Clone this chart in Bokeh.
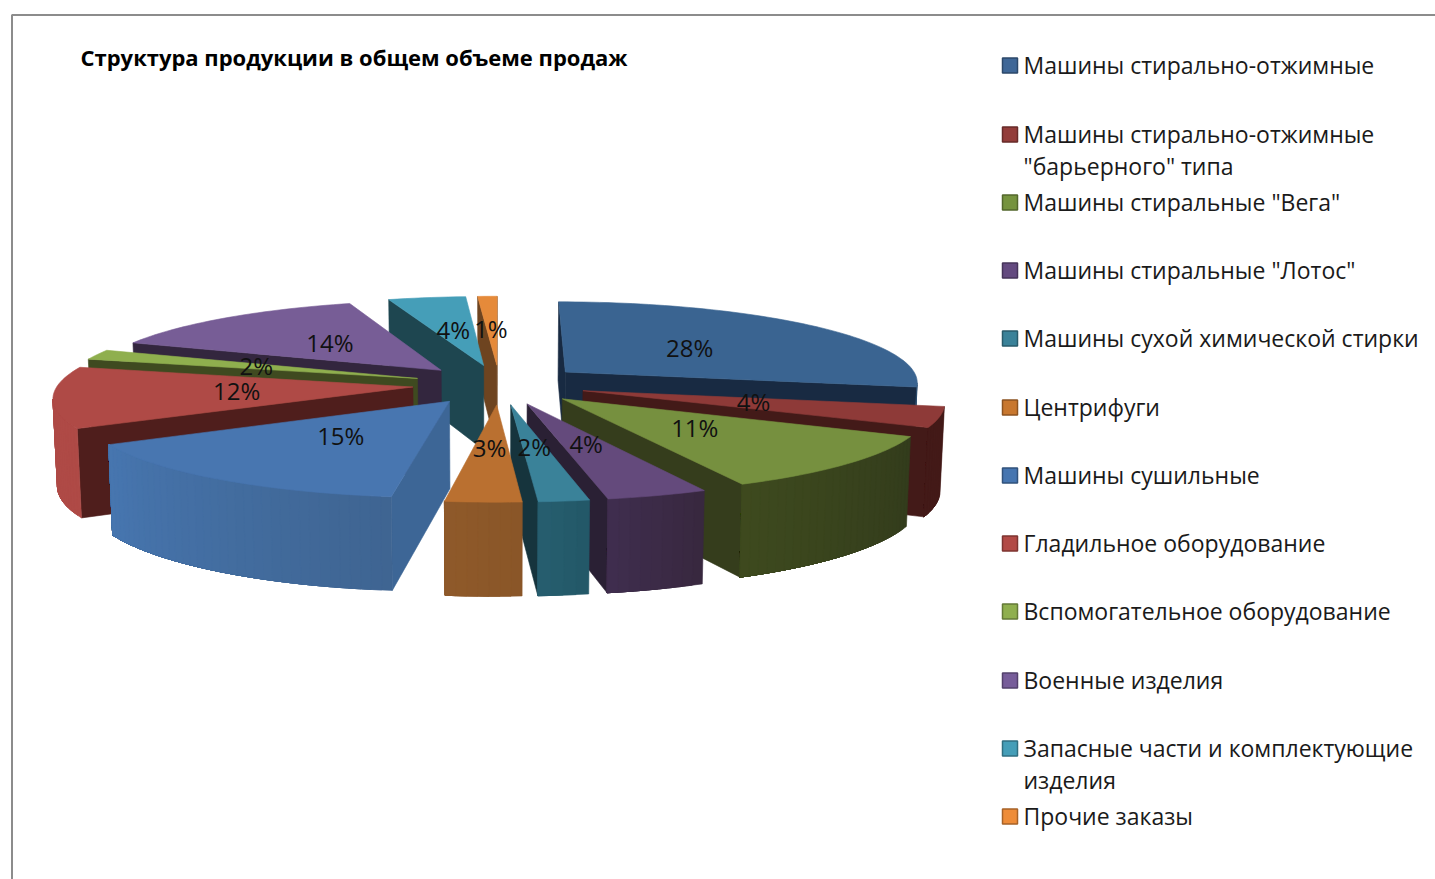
import math
from bokeh.plotting import figure
from bokeh.models import Range1d
from bokeh.core.properties import value
from bokeh.embed import file_html
from bokeh.resources import INLINE

TITLE = "Структура  продукции в общем объеме продаж"
categories = [
    "Машины стирально-отжимные",
    "Машины стирально-отжимные\n\"барьерного\" типа",
    "Машины стиральные \"Вега\"",
    "Машины стиральные \"Лотос\"",
    "Машины сухой химической стирки",
    "Центрифуги",
    "Машины сушильные",
    "Гладильное оборудование",
    "Вспомогательное оборудование",
    "Военные изделия",
    "Запасные части и комплектующие\nизделия",
    "Прочие заказы",
]
shares = [28, 4, 11, 4, 2, 3, 15, 12, 2, 14, 4, 1]

top_colors = ["#3A6491", "#8E3A38", "#76903F", "#644A7C", "#3A8299", "#BA7030",
              "#4876B0", "#AF4A46", "#8FAF4E", "#775D96", "#459EB8", "#E58A3A"]
cut_colors = ["#182A42", "#431A18", "#353D1C", "#2A2034", "#16343D", "#8A5628",
              "#3D6696", "#4F1E1C", "#3F4A20", "#33263E", "#1E4650", "#6E4420"]
wall_from = ["#2A4A6C", "#431A18", "#333C1C", "#38283F", "#235868", "#8A5628",
             "#3F6592", "#AF4A46", "#6E8A3A", "#5A4672", "#2F7A90", "#B06A2C"]
wall_to = ["#2A4A6C", "#431A18", "#3E4A1E", "#402E50", "#275F70", "#8F5A2A",
           "#4776B0", "#AF4A46", "#6E8A3A", "#5A4672", "#2F7A90", "#B06A2C"]
swatch_colors = ["#3F6797", "#933C3A", "#76933F", "#644A80", "#3A8299", "#C8772E",
                 "#4675B0", "#B24A46", "#8FAF4E", "#775D9A", "#459EB8", "#EE8C38"]

# Projection of the exploded pie
CX, CY, RX, RY = 499.0, 384.0, 355.0, 81.0
EXPLODE, PERSP, WALL = 0.245, 0.115, 86.0


def project(x, y, bottom=False):
    s = 1.0 / (1.0 + PERSP * y)
    sx = RX * x * s
    sy = CY - RY * y * s
    if bottom:
        sx *= 0.99
        sy += WALL * (1.0 - 0.075 * y)
    return CX + sx, sy


def hex_mix(a, b, t):
    ca = [int(a[i:i + 2], 16) for i in (1, 3, 5)]
    cb = [int(b[i:i + 2], 16) for i in (1, 3, 5)]
    return "#%02X%02X%02X" % tuple(round(p + (q - p) * t) for p, q in zip(ca, cb))


def area(pts):
    return 0.5 * sum(pts[i][0] * pts[(i + 1) % len(pts)][1] - pts[(i + 1) % len(pts)][0] * pts[i][1]
                     for i in range(len(pts)))


total = sum(shares)
slices = []
acc = 0.0
for i, v in enumerate(shares):
    a0 = 2 * math.pi * acc / total
    a1 = 2 * math.pi * (acc + v) / total
    acc += v
    slices.append((i, a0, a1, (a0 + a1) / 2))

xs, ys, fills = [], [], []


def add(pts, color):
    xs.append([p[0] for p in pts])
    ys.append([p[1] for p in pts])
    fills.append(color)


for i, a0, a1, mid in sorted(slices, key=lambda r: -math.cos(r[3])):
    ox, oy = EXPLODE * math.sin(mid), EXPLODE * math.cos(mid)
    n = max(3, int((a1 - a0) / math.radians(1.5)))
    angs = [a0 + (a1 - a0) * k / n for k in range(n + 1)]
    rim = [(ox + math.sin(t), oy + math.cos(t)) for t in angs]
    # cut faces
    for outer, sign in ((rim[0], 1), (rim[-1], -1)):
        face = [project(ox, oy), project(*outer), project(*outer, bottom=True), project(ox, oy, bottom=True)]
        if area(face) * sign < 0:
            add(face, cut_colors[i])
    # outer wall: only the part facing the viewer, in overlapping strips so no seams show
    vis = [k for k in range(n)
           if area([project(*rim[k]), project(*rim[k + 1]),
                    project(*rim[k + 1], bottom=True), project(*rim[k], bottom=True)]) < 0]
    if vis:
        last = vis[-1] + 1
        for k in vis:
            part = rim[k:last + 1]
            face = [project(*q) for q in part] + [project(*q, bottom=True) for q in reversed(part)]
            add(face, hex_mix(wall_from[i], wall_to[i], k / n))
    add([project(ox, oy)] + [project(*q) for q in rim], top_colors[i])

W, H = 1435, 879
p = figure(width=W, height=H, output_backend="svg", toolbar_location=None,
           x_range=Range1d(0, W), y_range=Range1d(H, 0),
           min_border=0, outline_line_color=None)
p.axis.visible = False
p.grid.visible = False

# chart frame
p.line([11.5, 11.5, W], [H, 14.5, 14.5], line_color="#8C8C8C", line_width=2)

p.patches(xs, ys, fill_color=fills, line_color=fills, line_width=0.6)

# percent labels
lx, ly, lt = [], [], []
for i, a0, a1, mid in slices:
    r = EXPLODE + 0.48
    a, b = project(r * math.sin(mid), r * math.cos(mid))
    lx.append(CX - 1 + (a - CX) * 1.015); ly.append(b - 1.5); lt.append(f"{shares[i]}%")
p.text(lx, ly, text=lt, text_font=value("Open Sans"), text_font_size="24px",
       text_align="center", text_baseline="middle", text_color="#111111")

p.text([80], [56.5], text=[TITLE], text_font=value("Open Sans"), text_font_size="22px",
       text_font_style="bold", text_baseline="middle", text_color="#000000")

# legend
rows = [65, 134, 202, 270, 338, 407, 475, 543, 611, 680, 748, 816]
p.scatter([1009.5] * len(rows), rows, marker="square", size=15, fill_color=swatch_colors,
          line_color=[hex_mix(c, "#000000", 0.3) for c in swatch_colors], line_width=1.5)
tx, ty, tt = [], [], []
for y0, name in zip(rows, categories):
    for j, line in enumerate(name.split("\n")):
        tx.append(1023); ty.append(y0 - 1 + 32 * j); tt.append(line)
p.text(tx, ty, text=tt, text_font=value("Open Sans"), text_font_size="23px",
       text_baseline="middle", text_color="#1A1A1A")

open("out.html", "w").write(file_html(p, INLINE))
